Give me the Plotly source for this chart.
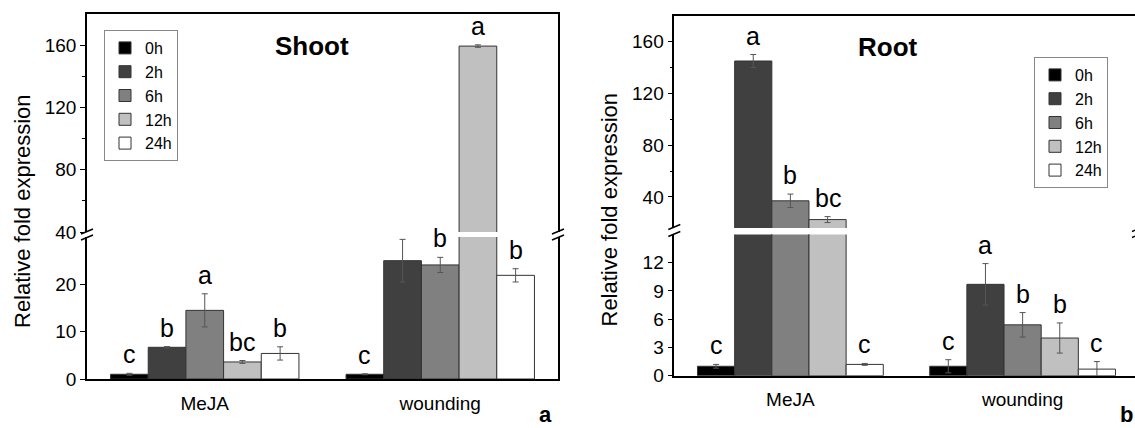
import plotly.graph_objects as go

# ---------------- data ----------------
groups = ["MeJA", "wounding"]
times = ["0h", "2h", "6h", "12h", "24h"]
colors = ["#000000", "#404040", "#808080", "#c0c0c0", "#ffffff"]

shoot_meja = [1.0, 6.7, 14.5, 3.6, 5.4]
shoot_meja_err = [0.2, 0.15, 3.5, 0.3, 1.4]
shoot_wound = [1.0, 25.0, 24.1, 159.4, 21.9]
shoot_wound_err = [0.1, 4.5, 1.6, 0.8, 1.4]
shoot_letters_meja = ["c", "b", "a", "bc", "b"]
shoot_letters_wound = ["c", "b", "b", "a", "b"]

root_meja = [1.0, 145.0, 37.0, 22.5, 1.2]
root_meja_err = [0.2, 5.0, 5.2, 2.3, 0.1]
root_wound = [1.0, 9.7, 5.4, 4.0, 0.7]
root_wound_err = [0.7, 2.2, 1.3, 1.6, 0.8]
root_letters_meja = ["c", "a", "b", "bc", "c"]
root_letters_wound = ["c", "a", "b", "b", "c"]

shoot_lower_range = [0, 30]
shoot_upper_range = [40, 180]
root_lower_range = [0, 15]
root_upper_range = [16, 180]

W, H = 1135, 428
FONT = "Liberation Sans, Arial, sans-serif"

def px_x(p):
    return p / W

def px_y(p):
    return 1 - p / H

fig = go.Figure()

panels = [
    dict(xl="x", yl="y", xu="x2", yu="y2", legend="legend",
         meja=shoot_meja, meja_err=shoot_meja_err,
         wound=shoot_wound, wound_err=shoot_wound_err,
         lm=shoot_letters_meja, lw=shoot_letters_wound,
         lower=shoot_lower_range),
    dict(xl="x3", yl="y3", xu="x4", yu="y4", legend="legend2",
         meja=root_meja, meja_err=root_meja_err,
         wound=root_wound, wound_err=root_wound_err,
         lm=root_letters_meja, lw=root_letters_wound,
         lower=root_lower_range),
]

gx = list(range(len(groups)))
bar_w = 0.8 / len(times)
annotations = []

for p in panels:
    for i, t in enumerate(times):
        yv = [p["meja"][i], p["wound"][i]]
        ev = [p["meja_err"][i], p["wound_err"][i]]
        for seg in ("l", "u"):
            fig.add_trace(go.Bar(
                x=gx, y=yv, name=t,
                xaxis=p["x" + seg], yaxis=p["y" + seg],
                marker=dict(color=colors[i], line=dict(color="#333333", width=1)),
                error_y=dict(type="data", array=ev, visible=True,
                             color="#555555", thickness=1, width=3),
                legend=p["legend"], showlegend=(seg == "l"),
            ))
        letters = [p["lm"][i], p["lw"][i]]
        for g in gx:
            top = yv[g] + ev[g]
            seg = "l" if top < p["lower"][1] * 0.95 else "u"
            annotations.append(dict(
                x=g + (i - 2) * bar_w, y=top,
                xref=p["x" + seg], yref=p["y" + seg],
                text=letters[g], showarrow=False,
                xanchor="center", yanchor="bottom", yshift=3,
                font=dict(size=25, color="black", family=FONT),
            ))

tickfont = dict(size=19, color="black", family=FONT)

def yax(domain, rng, tickvals, anchor, mirror, minor_vals=None):
    d = dict(domain=domain, range=rng, tickvals=tickvals, anchor=anchor,
             showline=True, linecolor="black", linewidth=1.5, mirror=mirror,
             ticks="outside", ticklen=5, tickwidth=1.2, tickcolor="black",
             showgrid=False, zeroline=False, tickfont=tickfont, automargin=False)
    if minor_vals:
        d["minor"] = dict(tickvals=minor_vals, ticks="outside", ticklen=3,
                          tickwidth=1, tickcolor="black", showgrid=False)
    return d

xa_dom = [px_x(87), px_x(558)]
xb_dom = [px_x(674.3), 1.0]
xa_rng = [-0.5, 1.5]
xb_rng = [-0.5, 1.484]

def xax(domain, rng, anchor, bottom):
    d = dict(domain=domain, range=rng, anchor=anchor, showline=True,
             linecolor="black", linewidth=1.5, showgrid=False, zeroline=False,
             ticks="", automargin=False)
    if bottom:
        d.update(tickvals=gx, ticktext=groups, ticklabelstandoff=6,
                 tickfont=dict(size=19, color="black", family=FONT))
    else:
        d.update(side="top", showticklabels=False)
    return d

ya_low = [px_y(379), px_y(237)]
ya_up = [px_y(232), px_y(14)]
yb_low = [px_y(375.7), px_y(234.4)]
yb_up = [px_y(228), px_y(15.7)]

fig.update_layout(
    xaxis=xax(xa_dom, xa_rng, "y", True),
    xaxis2=xax(xa_dom, xa_rng, "y2", False),
    xaxis3=xax(xb_dom, xb_rng, "y3", True),
    xaxis4=xax(xb_dom, xb_rng, "y4", False),
    yaxis=yax(ya_low, shoot_lower_range, [0, 10, 20], "x", True),
    yaxis2=yax(ya_up, shoot_upper_range, [40, 80, 120, 160], "x2", True, [60, 100, 140]),
    yaxis3=yax(yb_low, root_lower_range, [0, 3, 6, 9, 12], "x3", False),
    yaxis4=yax(yb_up, root_upper_range, [40, 80, 120, 160], "x4", False, [60, 100, 140]),
)
fig.update_layout(xaxis2_matches="x", xaxis4_matches="x3")

# break marks on the axes
def brk(xp, yp):
    out = []
    for yc in yp:
        out.append(dict(type="line", xref="paper", yref="paper",
                        x0=px_x(xp - 6), y0=px_y(yc + 2.5),
                        x1=px_x(xp + 6), y1=px_y(yc - 2.5),
                        line=dict(color="black", width=1.5)))
    return out

shapes = []
shapes += brk(87, [231.5, 237.5])
shapes += brk(558, [231.5, 237.5])
shapes += brk(674.3, [227, 234])
shapes += brk(1138, [229, 235])

def pa(x, y, text, size, angle=0):
    return dict(x=px_x(x), y=px_y(y), xref="paper", yref="paper", text=text,
                xanchor="center", yanchor="middle", textangle=angle,
                showarrow=False, font=dict(size=size, color="black", family=FONT))

annotations += [
    pa(312, 46, "<b>Shoot</b>", 26),
    pa(888, 47, "<b>Root</b>", 26),
    pa(22, 211, "Relative fold expression", 22, -90),
    pa(608.5, 210, "Relative fold expression", 22, -90),
    pa(545, 414, "<b>a</b>", 22),
    pa(1126, 414, "<b>b</b>", 22),
]

legfont = dict(size=16, color="black", family=FONT)
fig.update_layout(
    width=W, height=H,
    margin=dict(l=0, r=0, t=0, b=0),
    paper_bgcolor="white", plot_bgcolor="white",
    barmode="group", bargap=0.2, bargroupgap=0,
    font=dict(family=FONT, color="black"),
    shapes=shapes, annotations=annotations,
    legend=dict(x=px_x(104), y=px_y(30), xanchor="left", yanchor="top",
                bgcolor="white", bordercolor="#888888", borderwidth=1,
                font=legfont, tracegroupgap=0),
    legend2=dict(x=px_x(1034), y=px_y(57), xanchor="left", yanchor="top",
                 bgcolor="white", bordercolor="#888888", borderwidth=1,
                 font=legfont, tracegroupgap=0),
)

fig.write_html(
    "out.html",
    config={"displayModeBar": False},
    post_script="document.body.style.margin='0px';document.body.style.overflow='hidden';",
)
